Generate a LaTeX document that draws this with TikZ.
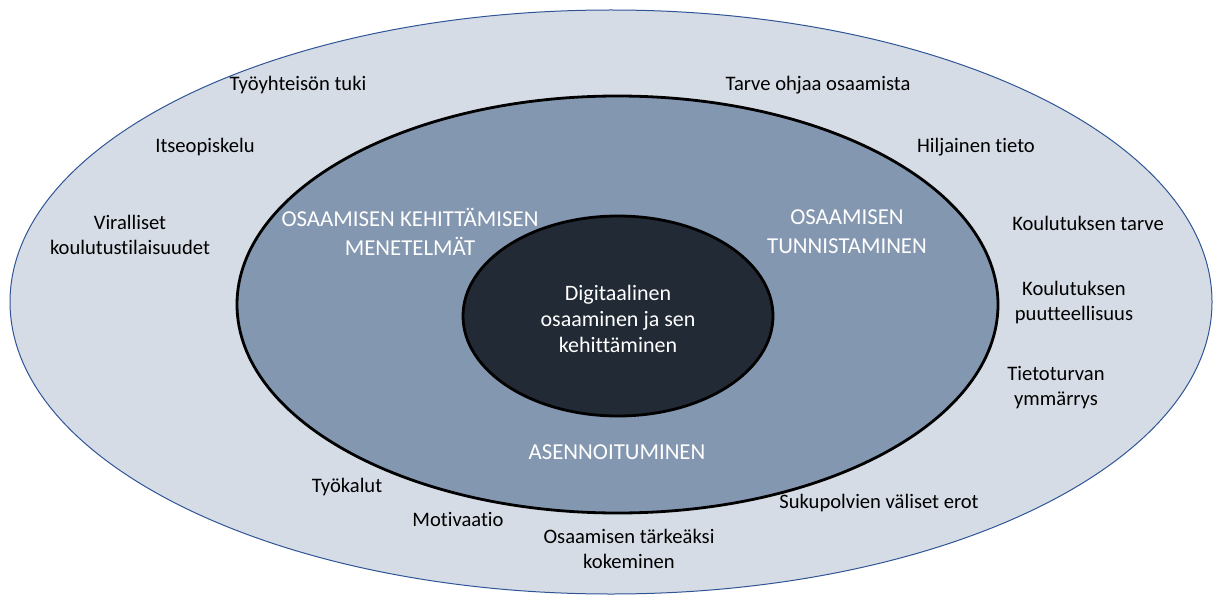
\documentclass[tikz,border=0pt]{standalone}
\usepackage{fontspec}
\setmainfont{Carlito}[Ligatures=NoCommon]
\usetikzlibrary{shapes.geometric}
\definecolor{outerfill}{HTML}{D6DCE5}
\definecolor{outerline}{HTML}{2F5597}
\definecolor{midfill}{HTML}{8497B0}
\definecolor{innerfill}{HTML}{222A35}
\begin{document}
\begin{tikzpicture}[x=1pt,y=-1pt,
  ring/.style={ellipse, inner sep=0pt, outer sep=0pt},
  lbl/.style={align=center, font=\fontsize{20.6}{25}\selectfont, text=black, inner sep=0pt},
  wlbl/.style={align=center, font=\fontsize{22.8}{29}\selectfont, text=white, inner sep=0pt}]
  \useasboundingbox (0,0) rectangle (1220,596);
  % three nested rings
  \node[ring, draw=outerline, line width=1pt, fill=outerfill,
        minimum width=1202pt, minimum height=584pt] (outer) at (611,302) {};
  \node[ring, draw=black, line width=2.8pt, fill=midfill,
        minimum width=761pt, minimum height=417pt] (mid) at (617.5,304.5) {};
  \node[ring, draw=black, line width=2.8pt, fill=innerfill,
        minimum width=310pt, minimum height=200pt] (inner) at (618,316) {};
  % core
  \node[wlbl, font=\fontsize{22}{26}\selectfont] (core) at (618,319) {Digitaalinen\\osaaminen ja sen\\kehittäminen};
  % middle ring themes
  \node[wlbl] (menetelmat) at (410,232) {OSAAMISEN KEHITTÄMISEN\\MENETELMÄT};
  \node[wlbl] (tunnistaminen) at (847,232) {OSAAMISEN\\TUNNISTAMINEN};
  \node[wlbl] (asenne) at (617,452) {ASENNOITUMINEN};
  % outer ring factors
  \node[lbl] (tuki) at (298,85) {Työyhteisön tuki};
  \node[lbl] (itse) at (205,147) {Itseopiskelu};
  \node[lbl] (viralliset) at (130,235) {Viralliset\\koulutustilaisuudet};
  \node[lbl] (tarve) at (818,85) {Tarve ohjaa osaamista};
  \node[lbl] (hiljainen) at (976,147) {Hiljainen tieto};
  \node[lbl] (koultarve) at (1088,223) {Koulutuksen tarve};
  \node[lbl] (puute) at (1074,303) {Koulutuksen\\puutteellisuus};
  \node[lbl] (tietoturva) at (1056,388) {Tietoturvan\\ymmärrys};
  \node[lbl] (sukupolvet) at (879,503) {Sukupolvien väliset erot};
  \node[lbl] (tarkea) at (629,549) {Osaamisen tärkeäksi\\kokeminen};
  \node[lbl] (motivaatio) at (458,519) {Motivaatio};
  \node[lbl] (tyokalut) at (347,487) {Työkalut};
\end{tikzpicture}
\end{document}
